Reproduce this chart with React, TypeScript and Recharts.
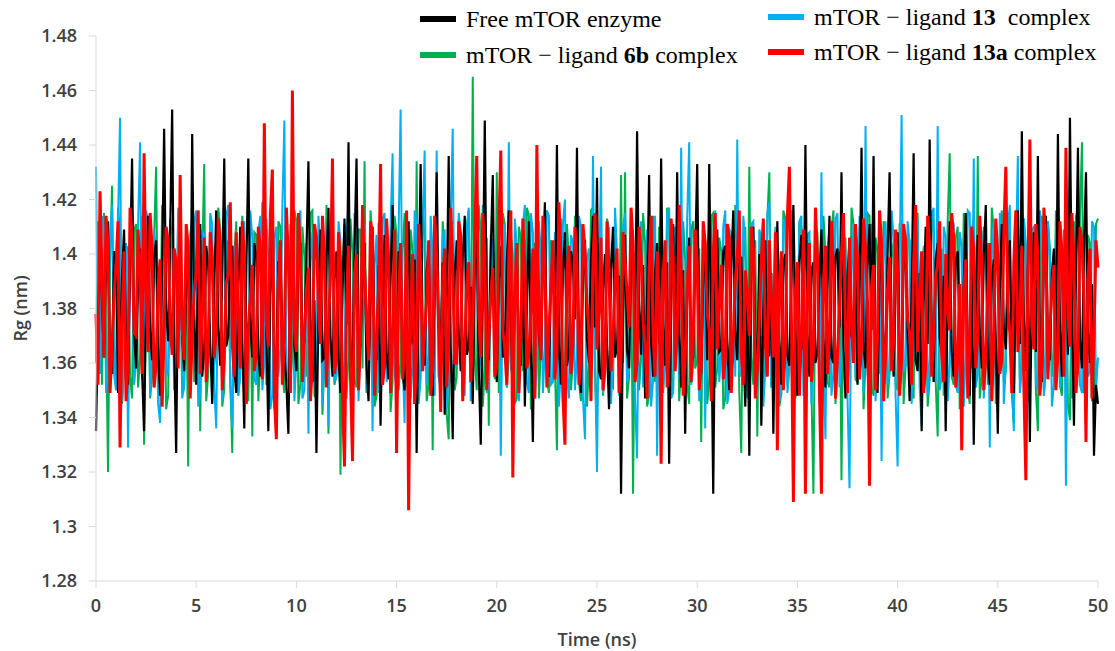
import React from "react";
import { LineChart, Line, XAxis, YAxis, Label } from "recharts";

const STEP_NS = 0.1;

const rgFree = [
  1.335, 1.372, 1.404, 1.381, 1.362, 1.395, 1.412, 1.359, 1.356, 1.401, 1.398, 1.349, 1.366, 1.392, 1.409, 1.368, 1.352, 1.397, 1.435, 1.371,
  1.358, 1.389, 1.402, 1.357, 1.335, 1.384, 1.414, 1.372, 1.361, 1.399, 1.405, 1.363, 1.348, 1.396, 1.446, 1.380, 1.368, 1.407, 1.453, 1.366,
  1.327, 1.393, 1.408, 1.370, 1.357, 1.386, 1.400, 1.361, 1.444, 1.378, 1.352, 1.398, 1.411, 1.355, 1.364, 1.403, 1.396, 1.367, 1.345, 1.388,
  1.416, 1.374, 1.359, 1.392, 1.435, 1.366, 1.370, 1.401, 1.403, 1.358, 1.349, 1.387, 1.410, 1.369, 1.336, 1.394, 1.435, 1.376, 1.362, 1.404,
  1.399, 1.363, 1.355, 1.390, 1.415, 1.371, 1.335, 1.385, 1.406, 1.357, 1.360, 1.397, 1.398, 1.373, 1.364, 1.352, 1.334, 1.389, 1.412, 1.366,
  1.357, 1.395, 1.404, 1.368, 1.368, 1.400, 1.434, 1.377, 1.353, 1.383, 1.327, 1.379, 1.409, 1.361, 1.362, 1.398, 1.417, 1.370, 1.355, 1.391,
  1.401, 1.362, 1.349, 1.386, 1.413, 1.374, 1.441, 1.365, 1.358, 1.402, 1.435, 1.371, 1.366, 1.393, 1.404, 1.359, 1.346, 1.388, 1.410, 1.369,
  1.361, 1.396, 1.337, 1.380, 1.407, 1.364, 1.354, 1.391, 1.418, 1.372, 1.363, 1.401, 1.399, 1.356, 1.350, 1.387, 1.412, 1.367, 1.368, 1.398,
  1.327, 1.385, 1.433, 1.369, 1.359, 1.394, 1.402, 1.360, 1.348, 1.389, 1.430, 1.373, 1.364, 1.397, 1.341, 1.382, 1.436, 1.366, 1.332, 1.392,
  1.405, 1.371, 1.357, 1.399, 1.414, 1.363, 1.366, 1.388, 1.345, 1.395, 1.409, 1.358, 1.330, 1.384, 1.449, 1.375, 1.361, 1.402, 1.429, 1.367,
  1.353, 1.390, 1.403, 1.362, 1.367, 1.397, 1.416, 1.374, 1.350, 1.386, 1.398, 1.365, 1.359, 1.400, 1.344, 1.381, 1.412, 1.368, 1.331, 1.393,
  1.406, 1.370, 1.362, 1.396, 1.419, 1.361, 1.355, 1.389, 1.401, 1.372, 1.440, 1.366, 1.352, 1.394, 1.408, 1.359, 1.364, 1.401, 1.397, 1.376,
  1.439, 1.364, 1.349, 1.391, 1.405, 1.369, 1.360, 1.398, 1.414, 1.373, 1.428, 1.357, 1.354, 1.387, 1.400, 1.366, 1.343, 1.395, 1.410, 1.362,
  1.366, 1.392, 1.312, 1.378, 1.407, 1.365, 1.358, 1.399, 1.401, 1.370, 1.445, 1.383, 1.363, 1.396, 1.347, 1.385, 1.429, 1.368, 1.355, 1.393,
  1.404, 1.367, 1.435, 1.374, 1.359, 1.397, 1.323, 1.381, 1.411, 1.363, 1.430, 1.371, 1.351, 1.394, 1.334, 1.386, 1.406, 1.360, 1.362, 1.399,
  1.433, 1.370, 1.356, 1.392, 1.398, 1.361, 1.433, 1.377, 1.312, 1.388, 1.409, 1.364, 1.365, 1.401, 1.403, 1.368, 1.350, 1.395, 1.416, 1.372,
  1.361, 1.397, 1.399, 1.366, 1.344, 1.385, 1.326, 1.390, 1.410, 1.369, 1.357, 1.400, 1.337, 1.379, 1.405, 1.362, 1.363, 1.393, 1.334, 1.384,
  1.412, 1.368, 1.352, 1.396, 1.400, 1.363, 1.359, 1.389, 1.418, 1.374, 1.348, 1.398, 1.407, 1.365, 1.440, 1.371, 1.355, 1.394, 1.397, 1.360,
  1.364, 1.391, 1.409, 1.369, 1.351, 1.387, 1.414, 1.362, 1.360, 1.399, 1.402, 1.373, 1.430, 1.366, 1.347, 1.392, 1.405, 1.370, 1.366, 1.397,
  1.352, 1.384, 1.439, 1.367, 1.358, 1.395, 1.411, 1.372, 1.436, 1.363, 1.349, 1.390, 1.403, 1.368, 1.362, 1.400, 1.430, 1.374, 1.355, 1.388,
  1.408, 1.365, 1.360, 1.396, 1.399, 1.370, 1.346, 1.386, 1.437, 1.361, 1.357, 1.393, 1.335, 1.382, 1.410, 1.367, 1.442, 1.375, 1.353, 1.398,
  1.404, 1.369, 1.364, 1.392, 1.335, 1.387, 1.412, 1.364, 1.355, 1.397, 1.401, 1.371, 1.361, 1.389, 1.415, 1.366, 1.348, 1.395, 1.330, 1.383,
  1.407, 1.372, 1.358, 1.399, 1.418, 1.362, 1.352, 1.390, 1.398, 1.368, 1.334, 1.385, 1.411, 1.373, 1.365, 1.394, 1.405, 1.360, 1.349, 1.391,
  1.416, 1.367, 1.445, 1.376, 1.357, 1.396, 1.331, 1.388, 1.408, 1.364, 1.436, 1.370, 1.353, 1.398, 1.414, 1.369, 1.361, 1.393, 1.402, 1.366,
  1.444, 1.374, 1.355, 1.395, 1.409, 1.363, 1.450, 1.380, 1.337, 1.392, 1.439, 1.368, 1.358, 1.401, 1.430, 1.371, 1.360, 1.389, 1.326, 1.352,
  1.345,
];

const rg6b = [
  1.360, 1.412, 1.398, 1.352, 1.415, 1.374, 1.320, 1.395, 1.425, 1.366, 1.350, 1.417, 1.408, 1.345, 1.358, 1.403, 1.402, 1.355, 1.347, 1.409,
  1.411, 1.351, 1.362, 1.414, 1.330, 1.388, 1.404, 1.347, 1.355, 1.406, 1.432, 1.361, 1.364, 1.418, 1.399, 1.343, 1.348, 1.401, 1.410, 1.357,
  1.357, 1.415, 1.406, 1.349, 1.352, 1.396, 1.322, 1.407, 1.413, 1.353, 1.361, 1.411, 1.335, 1.398, 1.433, 1.346, 1.356, 1.413, 1.401, 1.359,
  1.366, 1.417, 1.409, 1.344, 1.350, 1.405, 1.404, 1.354, 1.327, 1.399, 1.412, 1.348, 1.359, 1.414, 1.400, 1.351, 1.346, 1.392, 1.333, 1.408,
  1.407, 1.346, 1.363, 1.419, 1.415, 1.352, 1.354, 1.402, 1.398, 1.343, 1.360, 1.412, 1.410, 1.356, 1.349, 1.408, 1.403, 1.350, 1.365, 1.416,
  1.412, 1.345, 1.352, 1.410, 1.399, 1.355, 1.358, 1.415, 1.416, 1.348, 1.347, 1.403, 1.405, 1.341, 1.361, 1.418, 1.334, 1.396, 1.408, 1.352,
  1.356, 1.407, 1.319, 1.393, 1.411, 1.347, 1.362, 1.413, 1.400, 1.353, 1.351, 1.409, 1.409, 1.358, 1.434, 1.349, 1.357, 1.416, 1.403, 1.344,
  1.348, 1.411, 1.413, 1.354, 1.364, 1.405, 1.398, 1.342, 1.353, 1.414, 1.407, 1.350, 1.360, 1.401, 1.415, 1.357, 1.346, 1.409, 1.401, 1.348,
  1.434, 1.352, 1.358, 1.416, 1.406, 1.346, 1.352, 1.404, 1.328, 1.397, 1.410, 1.355, 1.363, 1.412, 1.399, 1.341, 1.332, 1.402, 1.412, 1.350,
  1.355, 1.413, 1.404, 1.348, 1.361, 1.410, 1.416, 1.353, 1.465, 1.362, 1.350, 1.418, 1.408, 1.344, 1.358, 1.406, 1.337, 1.400, 1.402, 1.354,
  1.430, 1.349, 1.356, 1.415, 1.411, 1.351, 1.363, 1.408, 1.399, 1.345, 1.347, 1.410, 1.406, 1.357, 1.359, 1.417, 1.414, 1.343, 1.352, 1.404,
  1.401, 1.347, 1.365, 1.412, 1.409, 1.354, 1.349, 1.405, 1.403, 1.359, 1.328, 1.396, 1.413, 1.346, 1.357, 1.411, 1.398, 1.350, 1.361, 1.414,
  1.410, 1.353, 1.346, 1.407, 1.405, 1.344, 1.360, 1.416, 1.417, 1.356, 1.335, 1.403, 1.402, 1.348, 1.363, 1.413, 1.408, 1.352, 1.351, 1.406,
  1.399, 1.355, 1.429, 1.360, 1.430, 1.347, 1.355, 1.402, 1.312, 1.390, 1.409, 1.350, 1.362, 1.415, 1.404, 1.344, 1.348, 1.408, 1.414, 1.353,
  1.357, 1.410, 1.400, 1.349, 1.364, 1.417, 1.411, 1.355, 1.350, 1.404, 1.406, 1.346, 1.359, 1.412, 1.398, 1.352, 1.345, 1.409, 1.412, 1.358,
  1.361, 1.402, 1.331, 1.395, 1.405, 1.345, 1.354, 1.414, 1.415, 1.351, 1.358, 1.406, 1.401, 1.343, 1.347, 1.411, 1.409, 1.356, 1.363, 1.418,
  1.403, 1.349, 1.327, 1.398, 1.410, 1.355, 1.432, 1.362, 1.352, 1.405, 1.333, 1.394, 1.407, 1.348, 1.360, 1.413, 1.430, 1.351, 1.356, 1.409,
  1.402, 1.344, 1.349, 1.416, 1.413, 1.352, 1.361, 1.407, 1.399, 1.347, 1.355, 1.412, 1.410, 1.357, 1.346, 1.403, 1.404, 1.350, 1.312, 1.397,
  1.408, 1.346, 1.363, 1.414, 1.400, 1.353, 1.351, 1.409, 1.416, 1.345, 1.358, 1.401, 1.317, 1.392, 1.406, 1.349, 1.362, 1.417, 1.411, 1.354,
  1.353, 1.410, 1.403, 1.343, 1.360, 1.415, 1.414, 1.351, 1.348, 1.406, 1.401, 1.356, 1.364, 1.412, 1.409, 1.347, 1.356, 1.404, 1.399, 1.352,
  1.350, 1.411, 1.412, 1.345, 1.359, 1.407, 1.405, 1.350, 1.347, 1.413, 1.415, 1.357, 1.362, 1.402, 1.398, 1.344, 1.354, 1.416, 1.408, 1.353,
  1.333, 1.396, 1.402, 1.348, 1.361, 1.412, 1.437, 1.355, 1.352, 1.406, 1.410, 1.343, 1.358, 1.415, 1.404, 1.351, 1.345, 1.409, 1.413, 1.356,
  1.436, 1.347, 1.355, 1.410, 1.401, 1.352, 1.363, 1.417, 1.409, 1.345, 1.349, 1.404, 1.416, 1.353, 1.357, 1.411, 1.403, 1.349, 1.338, 1.399,
  1.411, 1.354, 1.360, 1.413, 1.399, 1.346, 1.352, 1.408, 1.407, 1.350, 1.335, 1.397, 1.414, 1.348, 1.358, 1.412, 1.402, 1.355, 1.364, 1.416,
  1.410, 1.352, 1.348, 1.409, 1.405, 1.345, 1.339, 1.401, 1.412, 1.354, 1.356, 1.414, 1.441, 1.349, 1.362, 1.407, 1.404, 1.346, 1.350, 1.411,
  1.413,
];

const rg13 = [
  1.432, 1.365, 1.356, 1.414, 1.410, 1.349, 1.362, 1.407, 1.418, 1.356, 1.350, 1.412, 1.450, 1.346, 1.358, 1.404, 1.329, 1.398, 1.406, 1.352,
  1.360, 1.411, 1.441, 1.354, 1.353, 1.416, 1.412, 1.348, 1.364, 1.409, 1.400, 1.345, 1.338, 1.402, 1.415, 1.355, 1.357, 1.413, 1.405, 1.350,
  1.362, 1.417, 1.409, 1.347, 1.351, 1.405, 1.402, 1.353, 1.366, 1.412, 1.416, 1.344, 1.349, 1.408, 1.407, 1.356, 1.359, 1.415, 1.411, 1.351,
  1.336, 1.399, 1.404, 1.346, 1.361, 1.414, 1.418, 1.352, 1.336, 1.403, 1.400, 1.348, 1.355, 1.410, 1.412, 1.345, 1.363, 1.416, 1.406, 1.354,
  1.352, 1.408, 1.414, 1.350, 1.360, 1.413, 1.399, 1.343, 1.348, 1.406, 1.410, 1.355, 1.365, 1.417, 1.449, 1.352, 1.357, 1.411, 1.403, 1.346,
  1.362, 1.409, 1.416, 1.347, 1.350, 1.404, 1.334, 1.397, 1.408, 1.351, 1.358, 1.414, 1.401, 1.344, 1.364, 1.410, 1.337, 1.402, 1.413, 1.353,
  1.355, 1.412, 1.405, 1.348, 1.361, 1.407, 1.419, 1.354, 1.349, 1.415, 1.402, 1.346, 1.366, 1.409, 1.411, 1.350, 1.353, 1.403, 1.335, 1.396,
  1.407, 1.349, 1.359, 1.413, 1.415, 1.353, 1.362, 1.410, 1.437, 1.356, 1.351, 1.408, 1.453, 1.362, 1.338, 1.401, 1.404, 1.347, 1.360, 1.416,
  1.412, 1.345, 1.354, 1.411, 1.438, 1.352, 1.363, 1.414, 1.400, 1.348, 1.438, 1.355, 1.350, 1.407, 1.409, 1.343, 1.357, 1.412, 1.446, 1.358,
  1.361, 1.415, 1.406, 1.350, 1.348, 1.409, 1.417, 1.346, 1.359, 1.411, 1.402, 1.353, 1.364, 1.418, 1.413, 1.349, 1.352, 1.406, 1.405, 1.356,
  1.358, 1.404, 1.326, 1.393, 1.411, 1.351, 1.441, 1.358, 1.355, 1.413, 1.403, 1.346, 1.362, 1.410, 1.418, 1.353, 1.349, 1.415, 1.408, 1.347,
  1.360, 1.412, 1.401, 1.349, 1.366, 1.416, 1.414, 1.352, 1.353, 1.408, 1.406, 1.344, 1.359, 1.411, 1.420, 1.355, 1.347, 1.407, 1.404, 1.350,
  1.362, 1.414, 1.410, 1.347, 1.332, 1.398, 1.402, 1.352, 1.436, 1.361, 1.320, 1.389, 1.432, 1.349, 1.356, 1.412, 1.409, 1.345, 1.363, 1.417,
  1.400, 1.348, 1.350, 1.410, 1.415, 1.353, 1.358, 1.413, 1.407, 1.346, 1.325, 1.395, 1.412, 1.351, 1.361, 1.409, 1.404, 1.344, 1.354, 1.414,
  1.326, 1.397, 1.409, 1.350, 1.363, 1.415, 1.417, 1.347, 1.349, 1.410, 1.405, 1.354, 1.439, 1.362, 1.357, 1.413, 1.441, 1.352, 1.360, 1.408,
  1.403, 1.346, 1.352, 1.412, 1.336, 1.399, 1.411, 1.349, 1.359, 1.416, 1.401, 1.353, 1.364, 1.410, 1.416, 1.345, 1.350, 1.408, 1.407, 1.355,
  1.442, 1.357, 1.355, 1.414, 1.404, 1.347, 1.361, 1.411, 1.412, 1.352, 1.348, 1.409, 1.406, 1.344, 1.358, 1.415, 1.419, 1.351, 1.363, 1.410,
  1.401, 1.346, 1.351, 1.413, 1.410, 1.349, 1.357, 1.416, 1.403, 1.353, 1.365, 1.412, 1.414, 1.348, 1.352, 1.407, 1.408, 1.345, 1.360, 1.417,
  1.399, 1.352, 1.430, 1.359, 1.332, 1.401, 1.409, 1.348, 1.356, 1.413, 1.415, 1.351, 1.362, 1.409, 1.402, 1.347, 1.314, 1.392, 1.411, 1.355,
  1.358, 1.414, 1.405, 1.349, 1.447, 1.356, 1.350, 1.411, 1.409, 1.346, 1.361, 1.398, 1.324, 1.396, 1.412, 1.352, 1.357, 1.416, 1.406, 1.348,
  1.322, 1.394, 1.451, 1.357, 1.359, 1.412, 1.404, 1.345, 1.364, 1.409, 1.413, 1.351, 1.337, 1.403, 1.400, 1.348, 1.362, 1.414, 1.417, 1.353,
  1.447, 1.350, 1.355, 1.410, 1.406, 1.346, 1.360, 1.413, 1.411, 1.352, 1.349, 1.408, 1.403, 1.344, 1.363, 1.416, 1.415, 1.358, 1.435, 1.351,
  1.356, 1.411, 1.408, 1.347, 1.361, 1.404, 1.329, 1.399, 1.412, 1.350, 1.353, 1.415, 1.405, 1.345, 1.359, 1.410, 1.418, 1.354, 1.335, 1.398,
  1.436, 1.349, 1.357, 1.413, 1.404, 1.346, 1.362, 1.409, 1.410, 1.353, 1.350, 1.416, 1.407, 1.348, 1.364, 1.412, 1.399, 1.344, 1.352, 1.408,
  1.413, 1.351, 1.358, 1.405, 1.315, 1.394, 1.406, 1.347, 1.361, 1.414, 1.416, 1.352, 1.349, 1.409, 1.403, 1.355, 1.357, 1.412, 1.410, 1.350,
  1.362,
];

const rg13a = [
  1.378, 1.352, 1.423, 1.391, 1.362, 1.414, 1.404, 1.349, 1.366, 1.385, 1.396, 1.412, 1.329, 1.376, 1.401, 1.346, 1.360, 1.417, 1.407, 1.371,
  1.370, 1.409, 1.395, 1.356, 1.437, 1.383, 1.364, 1.415, 1.402, 1.351, 1.359, 1.388, 1.398, 1.344, 1.372, 1.410, 1.405, 1.374, 1.363, 1.402,
  1.397, 1.358, 1.429, 1.373, 1.361, 1.411, 1.403, 1.347, 1.369, 1.386, 1.394, 1.416, 1.356, 1.379, 1.406, 1.353, 1.365, 1.408, 1.399, 1.362,
  1.371, 1.413, 1.404, 1.350, 1.362, 1.389, 1.393, 1.419, 1.367, 1.355, 1.408, 1.377, 1.358, 1.412, 1.400, 1.345, 1.373, 1.384, 1.396, 1.357,
  1.363, 1.410, 1.402, 1.354, 1.448, 1.375, 1.366, 1.414, 1.431, 1.348, 1.332, 1.390, 1.405, 1.352, 1.368, 1.417, 1.398, 1.349, 1.460, 1.372,
  1.364, 1.415, 1.401, 1.353, 1.370, 1.387, 1.395, 1.346, 1.360, 1.411, 1.406, 1.380, 1.367, 1.414, 1.399, 1.351, 1.374, 1.392, 1.435, 1.356,
  1.362, 1.408, 1.397, 1.347, 1.322, 1.381, 1.403, 1.355, 1.324, 1.393, 1.400, 1.350, 1.369, 1.418, 1.394, 1.376, 1.361, 1.412, 1.407, 1.348,
  1.366, 1.386, 1.433, 1.352, 1.359, 1.413, 1.398, 1.349, 1.372, 1.409, 1.327, 1.384, 1.404, 1.354, 1.365, 1.416, 1.306, 1.378, 1.400, 1.345,
  1.363, 1.411, 1.396, 1.357, 1.371, 1.383, 1.405, 1.348, 1.358, 1.414, 1.399, 1.374, 1.342, 1.390, 1.402, 1.351, 1.368, 1.417, 1.394, 1.360,
  1.360, 1.412, 1.407, 1.346, 1.366, 1.389, 1.397, 1.353, 1.373, 1.408, 1.436, 1.377, 1.362, 1.415, 1.401, 1.350, 1.369, 1.385, 1.395, 1.355,
  1.359, 1.409, 1.438, 1.372, 1.365, 1.352, 1.400, 1.416, 1.318, 1.387, 1.404, 1.349, 1.370, 1.413, 1.396, 1.358, 1.363, 1.380, 1.402, 1.347,
  1.440, 1.376, 1.361, 1.414, 1.397, 1.351, 1.372, 1.388, 1.405, 1.354, 1.364, 1.419, 1.399, 1.348, 1.330, 1.393, 1.403, 1.356, 1.367, 1.410,
  1.396, 1.352, 1.360, 1.411, 1.401, 1.382, 1.371, 1.346, 1.398, 1.415, 1.365, 1.379, 1.406, 1.350, 1.358, 1.412, 1.394, 1.357, 1.369, 1.391,
  1.402, 1.349, 1.363, 1.408, 1.397, 1.386, 1.373, 1.417, 1.404, 1.353, 1.360, 1.410, 1.399, 1.375, 1.366, 1.347, 1.395, 1.414, 1.370, 1.355,
  1.401, 1.384, 1.323, 1.392, 1.405, 1.351, 1.364, 1.413, 1.398, 1.357, 1.371, 1.418, 1.393, 1.348, 1.362, 1.388, 1.403, 1.353, 1.368, 1.409,
  1.397, 1.350, 1.359, 1.412, 1.404, 1.378, 1.372, 1.346, 1.400, 1.415, 1.365, 1.383, 1.396, 1.354, 1.361, 1.411, 1.406, 1.349, 1.369, 1.390,
  1.399, 1.416, 1.363, 1.352, 1.394, 1.385, 1.370, 1.410, 1.402, 1.347, 1.358, 1.376, 1.398, 1.413, 1.367, 1.355, 1.405, 1.381, 1.362, 1.408,
  1.328, 1.389, 1.401, 1.350, 1.366, 1.414, 1.432, 1.377, 1.309, 1.386, 1.397, 1.348, 1.371, 1.409, 1.312, 1.384, 1.404, 1.353, 1.364, 1.417,
  1.399, 1.351, 1.312, 1.390, 1.403, 1.356, 1.369, 1.412, 1.395, 1.347, 1.362, 1.380, 1.400, 1.415, 1.372, 1.349, 1.406, 1.374, 1.360, 1.411,
  1.398, 1.354, 1.366, 1.413, 1.402, 1.382, 1.315, 1.388, 1.396, 1.350, 1.370, 1.416, 1.404, 1.346, 1.363, 1.387, 1.399, 1.357, 1.368, 1.409,
  1.394, 1.348, 1.361, 1.411, 1.405, 1.376, 1.371, 1.352, 1.397, 1.418, 1.364, 1.384, 1.401, 1.349, 1.358, 1.414, 1.403, 1.355, 1.369, 1.392,
  1.396, 1.412, 1.363, 1.353, 1.400, 1.379, 1.372, 1.415, 1.406, 1.351, 1.360, 1.389, 1.328, 1.386, 1.398, 1.347, 1.366, 1.410, 1.402, 1.358,
  1.370, 1.414, 1.395, 1.350, 1.362, 1.385, 1.404, 1.346, 1.367, 1.413, 1.399, 1.356, 1.361, 1.408, 1.432, 1.381, 1.371, 1.349, 1.397, 1.416,
  1.364, 1.378, 1.403, 1.352, 1.317, 1.391, 1.442, 1.374, 1.365, 1.411, 1.400, 1.348, 1.359, 1.417, 1.405, 1.354, 1.372, 1.388, 1.396, 1.350,
  1.363, 1.412, 1.401, 1.355, 1.439, 1.377, 1.366, 1.415, 1.398, 1.349, 1.360, 1.410, 1.404, 1.383, 1.331, 1.391, 1.402, 1.347, 1.370, 1.405,
  1.395,
];

const xTicks = [0, 5, 10, 15, 20, 25, 30, 35, 40, 45, 50];
const yTicks = [1.28, 1.3, 1.32, 1.34, 1.36, 1.38, 1.4, 1.42, 1.44, 1.46, 1.48];

const legendItems = [
  { key: "free", color: "#000000" },
  { key: "l6b", color: "#00B050" },
  { key: "l13", color: "#00B0F0" },
  { key: "l13a", color: "#FF0000" },
];

// paint order: green and blue under black, red on top
const drawOrder = [
  { key: "l6b", color: "#00B050", width: 2 },
  { key: "l13", color: "#00B0F0", width: 2 },
  { key: "free", color: "#000000", width: 2.2 },
  { key: "l13a", color: "#FF0000", width: 3 },
];

const data = rgFree.map((v, i) => ({
  t: Math.round(i * STEP_NS * 10) / 10,
  free: v,
  l6b: rg6b[i],
  l13: rg13[i],
  l13a: rg13a[i],
}));

const tickStyle = {
  fill: "#404040",
  fontSize: 18,
  fontWeight: 600,
  fontFamily: "'Open Sans', sans-serif",
};

const legendFont = "'Liberation Serif', 'Times New Roman', serif";

function Swatch({ color }: { color: string }) {
  return <span style={{ display: "inline-block", width: 36, height: 6, background: color, marginRight: 10 }} />;
}

function LegendRow({ color, children, top, left }: any) {
  return (
    <div
      style={{
        position: "absolute",
        top,
        left,
        display: "flex",
        alignItems: "center",
        fontFamily: legendFont,
        fontSize: 24,
        color: "#000",
        whiteSpace: "pre",
        lineHeight: "28px",
      }}
    >
      <Swatch color={color} />
      <span>{children}</span>
    </div>
  );
}

export default function App() {
  return (
    <div style={{ position: "fixed", left: 0, top: 0, width: 1115, height: 651, background: "#fff" }}>
      <LineChart width={1115} height={651} data={data} margin={{ top: 36, right: 17, bottom: 0, left: 0 }}>
        <XAxis
          dataKey="t"
          type="number"
          domain={[0, 50]}
          ticks={xTicks}
          stroke="#d9d9d9"
          tick={tickStyle}
          tickSize={7}
          tickMargin={11}
          height={70}
        >
          <Label
            value="Time (ns)"
            position="center"
            dy={24}
            style={{ fill: "#404040", fontSize: 18, fontWeight: 600, fontFamily: "'Open Sans', sans-serif" }}
          />
        </XAxis>
        <YAxis
          type="number"
          domain={[1.28, 1.48]}
          ticks={yTicks}
          stroke="#d9d9d9"
          tick={tickStyle}
          tickSize={7}
          tickMargin={12}
          width={96}
          tickFormatter={(v: number) => String(Number(v.toFixed(2)))}
          allowDataOverflow
        >
          <Label
            value="Rg (nm)"
            angle={-90}
            position="center"
            dx={-27}
            style={{ fill: "#404040", fontSize: 18, fontWeight: 600, fontFamily: "'Open Sans', sans-serif", textAnchor: "middle" }}
          />
        </YAxis>
        {drawOrder.map((s) => (
          <Line
            key={s.key}
            dataKey={s.key}
            type="linear"
            stroke={s.color}
            strokeWidth={s.width}
            dot={false}
            activeDot={false}
            isAnimationActive={false}
          />
        ))}
      </LineChart>
      <LegendRow color={legendItems[0].color} top={5} left={420}>Free mTOR enzyme</LegendRow>
      <LegendRow color={legendItems[1].color} top={41} left={420}>
        mTOR − ligand <b>6b</b> complex
      </LegendRow>
      <LegendRow color={legendItems[2].color} top={3} left={768}>
        mTOR − ligand <b>13</b>  complex
      </LegendRow>
      <LegendRow color={legendItems[3].color} top={38} left={768}>
        mTOR − ligand <b>13a</b> complex
      </LegendRow>
    </div>
  );
}
